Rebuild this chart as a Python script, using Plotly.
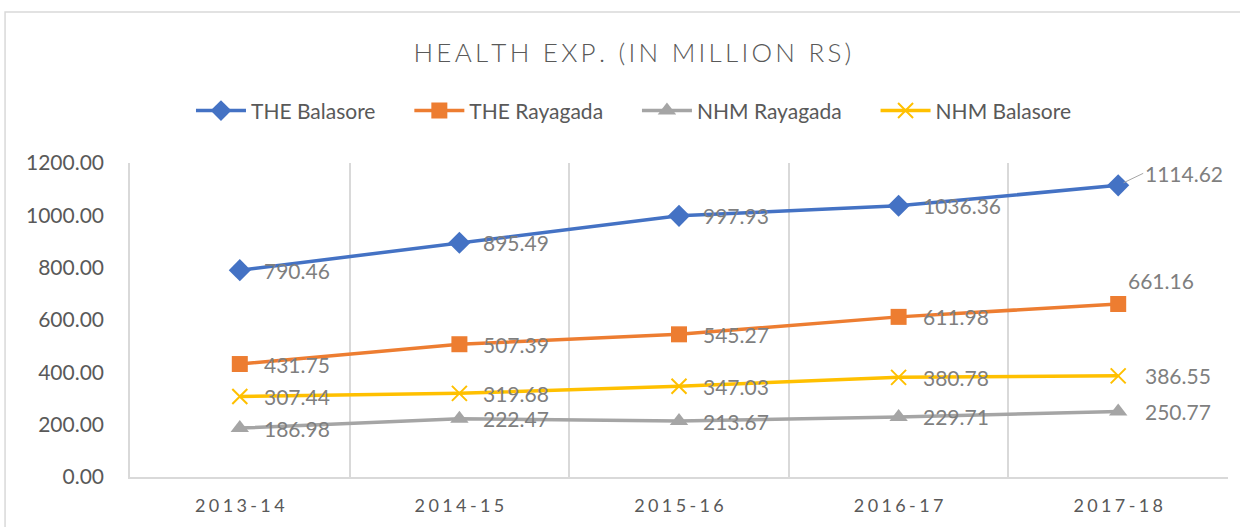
import plotly.graph_objects as go

years = ["2013-14", "2014-15", "2015-16", "2016-17", "2017-18"]
the_balasore = [790.46, 895.49, 997.93, 1036.36, 1114.62]
the_rayagada = [431.75, 507.39, 545.27, 611.98, 661.16]
nhm_rayagada = [186.98, 222.47, 213.67, 229.71, 250.77]
nhm_balasore = [307.44, 319.68, 347.03, 380.78, 386.55]

y_ticks = [0, 200, 400, 600, 800, 1000, 1200]

FONT = "Lato"
LABEL_GRAY = "#7f7f7f"
TICK_GRAY = "#595959"
GRID = "#d9d9d9"


def spaced(s, sep="\u2009"):
    return sep.join(list(s))


series = [
    ("THE Balasore", the_balasore, "#4472C4", dict(symbol="diamond", size=17)),
    ("THE Rayagada", the_rayagada, "#ED7D31", dict(symbol="square", size=16)),
    ("NHM Rayagada", nhm_rayagada, "#A5A5A5", dict(symbol="triangle-up", size=16)),
    ("NHM Balasore", nhm_balasore, "#FFC000", dict(symbol="x-thin", size=15)),
]

# label placement for the last point of each series (xshift, yshift)
last_label_style = {
    "THE Balasore": (25, 12),
    "THE Rayagada": (8, 24),
    "NHM Rayagada": (25, 0),
    "NHM Balasore": (25, 0),
}

fig = go.Figure()
annotations = []
for k, (name, vals, color, mk) in enumerate(series):
    marker = dict(symbol=mk["symbol"], size=mk["size"], color=color)
    if mk["symbol"] == "x-thin":
        marker["line"] = dict(color=color, width=2)
    pad = "\u2003\u2002\u2009" if k < len(series) - 1 else ""
    fig.add_trace(go.Scatter(
        x=years, y=vals, name=name + pad, mode="lines+markers",
        line=dict(color=color, width=3.5), marker=marker,
    ))
    for i, (yr, v) in enumerate(zip(years, vals)):
        if i == len(vals) - 1:
            xs, ys = last_label_style[name]
        else:
            xs, ys = 22, 0
        ann = dict(x=yr, y=v, xref="x", yref="y", text=f"{v:.2f}",
                   xanchor="left", yanchor="middle", xshift=xs, yshift=ys,
                   showarrow=False,
                   font=dict(family=FONT, size=21, color=LABEL_GRAY))
        if i == len(vals) - 1 and name == "THE Balasore":
            ann.update(showarrow=True, arrowhead=0, arrowwidth=1,
                       arrowcolor="#a6a6a6", ax=25, ay=-12, xshift=0,
                       yshift=0, standoff=6)
        annotations.append(ann)

fig.update_layout(
    width=1240, height=527,
    paper_bgcolor="white", plot_bgcolor="white",
    margin=dict(l=130, r=12, t=163, b=50),
    title=dict(text=spaced("HEALTH EXP. (IN MILLION RS)"),
               x=0.51, xref="container", xanchor="center",
               y=0.9, yref="container", yanchor="middle",
               font=dict(family=FONT, size=26, color=TICK_GRAY, weight=300)),
    legend=dict(orientation="h", x=0.459, xanchor="center", y=1.166,
                yanchor="middle", itemwidth=50,
                font=dict(family=FONT, size=21, color=TICK_GRAY),
                bgcolor="rgba(0,0,0,0)"),
    showlegend=True,
    annotations=annotations,
    shapes=[dict(type="rect", xref="paper", yref="paper",
                 x0=-0.1138, x1=1.2, y0=-0.3, y1=1.481,
                 line=dict(color=GRID, width=1.5), layer="below")],
)

fig.update_xaxes(
    type="category", range=[-0.5, 4.5], tickson="boundaries", showgrid=True,
    gridcolor=GRID, gridwidth=1.5, showline=True, linecolor=GRID,
    linewidth=1.5, ticks="", tickvals=years,
    ticktext=[spaced(y, "\u2009\u200a") for y in years],
    tickfont=dict(family=FONT, size=18, color=TICK_GRAY),
    ticklabelstandoff=12, zeroline=False, fixedrange=True,
)
fig.update_yaxes(
    range=[0, 1200], tickvals=y_ticks, tickformat=".2f", showgrid=False,
    zeroline=False, showline=True, linecolor=GRID, linewidth=1.5, ticks="",
    tickfont=dict(family=FONT, size=21, color=TICK_GRAY),
    ticklabelstandoff=20, fixedrange=True,
)

fig.write_html("out.html", config={"displayModeBar": False},
               post_script="document.body.style.margin='0';")
